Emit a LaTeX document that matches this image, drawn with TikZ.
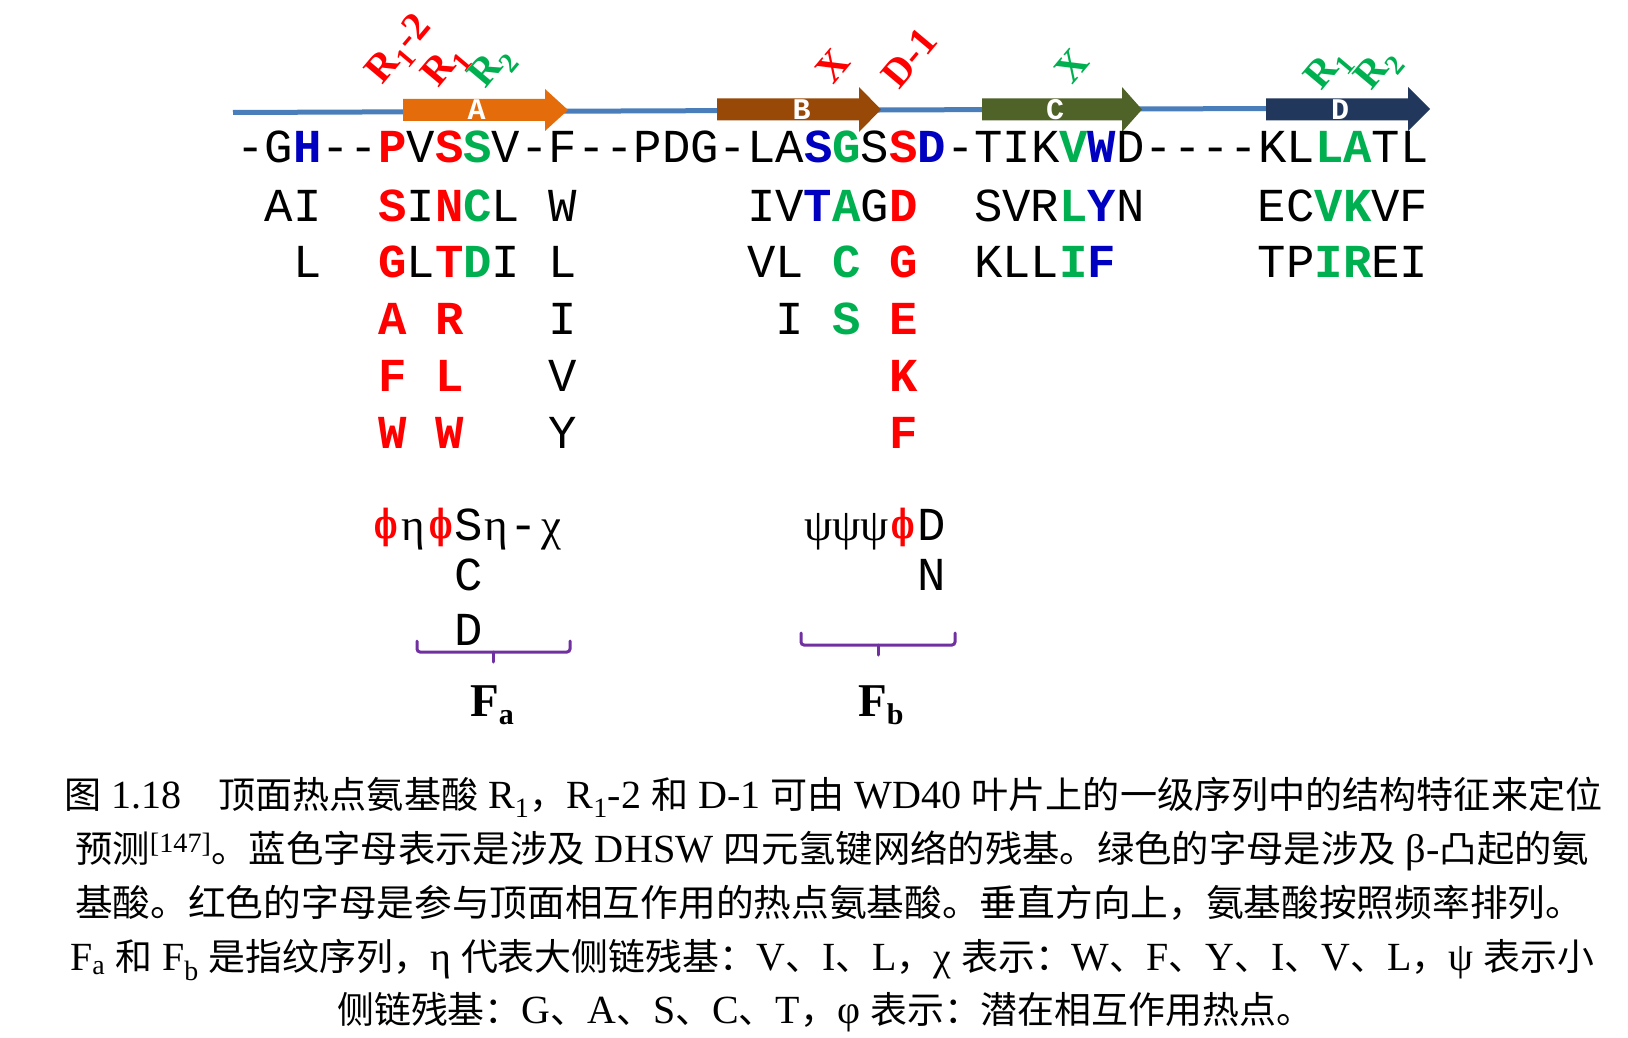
\documentclass[tikz,border=0pt]{standalone}
\usepackage{fontspec}
\usepackage{graphicx}
\setmainfont{Liberation Serif}[Scale=1.08]
\newfontfamily\monof{Liberation Mono}
\newfontfamily\serf{Liberation Serif}
\newfontfamily\dvserf{DejaVu Serif}
\newfontfamily\cjk{Noto Sans CJK SC}
\definecolor{hotred}{RGB}{255,0,0}
\definecolor{bulgegreen}{RGB}{0,176,80}
\definecolor{hbblue}{RGB}{0,0,192}
\definecolor{linebl}{RGB}{74,126,187}
\definecolor{strA}{RGB}{228,108,10}
\definecolor{strB}{RGB}{152,72,7}
\definecolor{strC}{RGB}{79,98,40}
\definecolor{strD}{RGB}{33,56,92}
\definecolor{bracepurple}{RGB}{112,48,160}
\newcommand\cred[1]{{\bfseries\color{hotred}#1}}
\newcommand\cgrn[1]{{\bfseries\color{bulgegreen}#1}}
\newcommand\cblu[1]{{\bfseries\color{hbblue}#1}}
\newcommand\seqfont{\monof\fontsize{47.3}{50}\selectfont}
\newcommand\grkfont{\serf\fontsize{45}{50}\selectfont}
\newcommand\phifont{\dvserf\bfseries\fontsize{40}{50}\selectfont}
\newcommand\arrfont{\monof\bfseries\fontsize{30}{30}\selectfont}
\newcommand\labfont{\serf\bfseries\fontsize{40}{42}\selectfont}
\newcommand\flabfont{\serf\bfseries\fontsize{47}{50}\selectfont}
\newcommand\capfont{\rmfamily\fontsize{37}{40}\selectfont}
\newcommand\narrowphi{\scalebox{0.62}[1]{ϕ}}
% automatic switching between Latin and CJK fonts in the caption
\newcount\cjkcc
\cjkcc="3000
\loop\XeTeXcharclass\cjkcc=7 \advance\cjkcc by 1 \ifnum\cjkcc<"A000 \repeat
\cjkcc="FF00
\loop\XeTeXcharclass\cjkcc=7 \advance\cjkcc by 1 \ifnum\cjkcc<"FFF0 \repeat
\XeTeXinterchartoks 0 7 = {\cjk}
\XeTeXinterchartoks 4095 7 = {\cjk}
\XeTeXinterchartoks 7 0 = {\rmfamily}
\XeTeXinterchartoks 7 4095 = {\rmfamily}
\XeTeXinterchartokenstate=1
\newcommand\seqat[4]{\node[seq] (#1) at ({236.4+#2*28.375},#3) {#4};}
\newcommand\colat[4]{\node[mch] (#1) at ({236.4+(#2+0.5)*28.375},#3) {#4};}
\tikzset{
  seq/.style={font=\seqfont, inner sep=0pt, outer sep=0pt, anchor=base west},
  mch/.style={font=\seqfont, inner sep=0pt, outer sep=0pt, anchor=base},
  grk/.style={font=\grkfont, inner sep=0pt, outer sep=0pt, anchor=base},
  phi/.style={font=\phifont, text=hotred, inner sep=0pt, outer sep=0pt, anchor=base},
  arrlet/.style={font=\arrfont, text=white, inner sep=0pt, anchor=base},
  rlab/.style={font=\labfont, rotate=50, inner sep=0pt, anchor=center},
  brace/.style={draw=bracepurple, line width=3pt, rounded corners=3pt, line cap=round},
  flab/.style={font=\flabfont, inner sep=0pt, anchor=base west},
  capline/.style={font=\capfont, inner sep=0pt, anchor=base west},
}
\begin{document}
\begin{tikzpicture}[x=1pt,y=-1pt]
\fill[white] (0,0) rectangle (1628,1038);
\useasboundingbox (0,0) rectangle (1628,1038);
% backbone
\coordinate (bbs) at (233,112.5);
\coordinate (bbe) at (1268,108.5);
\draw[linebl, line width=5pt] (bbs) -- (bbe);
% strands
\fill[strA] (403,99) -- (545,99) -- (545,89) -- (568,110) -- (545,131) -- (545,121) -- (403,121) -- cycle;
\fill[strB] (717,98.5) -- (859,98.5) -- (859,87) -- (881,109.5) -- (859,132) -- (859,120.5) -- (717,120.5) -- cycle;
\fill[strC] (982,98.5) -- (1122,98.5) -- (1122,87) -- (1142,109.5) -- (1122,132) -- (1122,120.5) -- (982,120.5) -- cycle;
\fill[strD] (1266,98.5) -- (1408,98.5) -- (1408,87) -- (1430,109) -- (1408,131) -- (1408,120.5) -- (1266,120.5) -- cycle;
\node[arrlet] (sA) at (476.7,119.5) {A};
\node[arrlet] (sB) at (801.7,119.5) {B};
\node[arrlet] (sC) at (1055,119.5) {C};
\node[arrlet] (sD) at (1340,119.5) {D};
% rotated labels
\node[rlab, text=hotred] (lR12) at (401,51) {R\textsubscript{1}-2};
\node[rlab, text=hotred] (lR1a) at (446,67) {R\textsubscript{1}};
\node[rlab, text=bulgegreen] (lR2a) at (493,68) {R\textsubscript{2}};
\node[rlab, text=hotred] (lXb) at (833,66) {X};
\node[rlab, text=hotred] (lD1) at (909,58) {D-1};
\node[rlab, text=bulgegreen] (lXc) at (1072,66) {X};
\node[rlab, text=bulgegreen] (lR1d) at (1329,70) {R\textsubscript{1}};
\node[rlab, text=bulgegreen] (lR2d) at (1379,70) {R\textsubscript{2}};
% row 0
\seqat{r0}{0}{163}{-G\cblu{H}--\cred{P}V\cred{S}\cgrn{S}V-F--PDG-LA\cblu{S}\cgrn{G}S\cred{S}\cblu{D}-TIK\cgrn{V}\cblu{W}D----KL\cgrn{LA}TL}
% row 1
\seqat{r1a}{1}{221}{AI}
\seqat{r1b}{5}{221}{\cred{S}I\cred{N}\cgrn{C}L}
\seqat{r1c}{11}{221}{W}
\seqat{r1d}{18}{221}{IV\cblu{T}\cgrn{A}G\cred{D}}
\seqat{r1e}{26}{221}{SVR\cgrn{L}\cblu{Y}N}
\seqat{r1f}{36}{221}{EC\cgrn{VK}VF}
% row 2
\seqat{r2a}{2}{277}{L}
\seqat{r2b}{5}{277}{\cred{G}L\cred{T}\cgrn{D}I}
\seqat{r2c}{11}{277}{L}
\seqat{r2d}{18}{277}{VL}
\seqat{r2e}{21}{277}{\cgrn{C}}
\seqat{r2f}{23}{277}{\cred{G}}
\seqat{r2g}{26}{277}{KLL\cgrn{I}\cblu{F}}
\seqat{r2h}{36}{277}{TP\cgrn{IR}EI}
% row 3
\seqat{r3a}{5}{334}{\cred{A}}
\seqat{r3b}{7}{334}{\cred{R}}
\seqat{r3c}{11}{334}{I}
\seqat{r3d}{19}{334}{I}
\seqat{r3e}{21}{334}{\cgrn{S}}
\seqat{r3f}{23}{334}{\cred{E}}
% row 4
\seqat{r4a}{5}{391}{\cred{F}}
\seqat{r4b}{7}{391}{\cred{L}}
\seqat{r4c}{11}{391}{V}
\seqat{r4d}{23}{391}{\cred{K}}
% row 5
\seqat{r5a}{5}{448}{\cred{W}}
\seqat{r5b}{7}{448}{\cred{W}}
\seqat{r5c}{11}{448}{Y}
\seqat{r5d}{23}{448}{\cred{F}}
% fingerprint a
\node[phi] (fa1) at (386,538) {\narrowphi};
\node[grk] (fa2) at (413.6,540) {η};
\node[phi] (fa3) at (441.2,538) {\narrowphi};
\node[mch] (fa4) at (468.8,540) {S};
\node[grk] (fa5) at (496.4,540) {η};
\node[mch] (fa6) at (524,540) {-};
\node[grk] (fa7) at (551.6,540) {χ};
\node[mch] (fa8) at (468.8,590) {C};
\node[mch] (fa9) at (468.8,645) {D};
% fingerprint b
\node[grk] (fb1) at ({236.4+20.5*28.375},540) {ψ};
\node[grk] (fb2) at ({236.4+21.5*28.375},540) {ψ};
\node[grk] (fb3) at ({236.4+22.5*28.375},540) {ψ};
\node[phi] (fb4) at ({236.4+23.5*28.375},538) {\narrowphi};
\colat{fb5}{24}{540}{D}
\colat{fb6}{24}{590}{N}
% braces
\coordinate (ba1) at (417,641); \coordinate (ba2) at (417,652);
\coordinate (ba3) at (570,652); \coordinate (ba4) at (570,641);
\coordinate (bam) at (493,652); \coordinate (bat) at (493,662);
\draw[brace] (ba1) -- (ba2) -- (ba3) -- (ba4);
\draw[brace, rounded corners=0pt] (bam) -- (bat);
\coordinate (bb1) at (801,633); \coordinate (bb2) at (801,645);
\coordinate (bb3) at (955,645); \coordinate (bb4) at (955,633);
\coordinate (bbm) at (878,645); \coordinate (bbt) at (878,655);
\draw[brace] (bb1) -- (bb2) -- (bb3) -- (bb4);
\draw[brace, rounded corners=0pt] (bbm) -- (bbt);
\node[flab] (Fa) at (470,716) {F\raisebox{-8pt}{\fontsize{30}{30}\selectfont a}};
\node[flab] (Fb) at (858,716) {F\raisebox{-8pt}{\fontsize{30}{30}\selectfont b}};
% caption
\node[capline] (c1) at (64,808) {\resizebox{1538pt}{\height}{图 1.18　顶面热点氨基酸 R\textsubscript{1}，R\textsubscript{1}-2 和 D-1 可由 WD40 叶片上的一级序列中的结构特征来定位}};
\node[capline] (c2) at (75,862) {\resizebox{1514pt}{\height}{预测\textsuperscript{\rmfamily[147]}。蓝色字母表示是涉及 DHSW 四元氢键网络的残基。绿色的字母是涉及 β-凸起的氨}};
\node[capline] (c3) at (75,916) {\resizebox{1508pt}{\height}{基酸。红色的字母是参与顶面相互作用的热点氨基酸。垂直方向上，氨基酸按照频率排列。}};
\node[capline] (c4) at (70,970) {\resizebox{1524pt}{\height}{F\textsubscript{a} 和 F\textsubscript{b} 是指纹序列，η 代表大侧链残基：V、I、L，χ 表示：W、F、Y、I、V、L，ψ 表示小}};
\node[capline] (c5) at (337,1023) {\resizebox{976pt}{\height}{侧链残基：G、A、S、C、T，φ 表示：潜在相互作用热点。}};
\end{tikzpicture}
\end{document}
